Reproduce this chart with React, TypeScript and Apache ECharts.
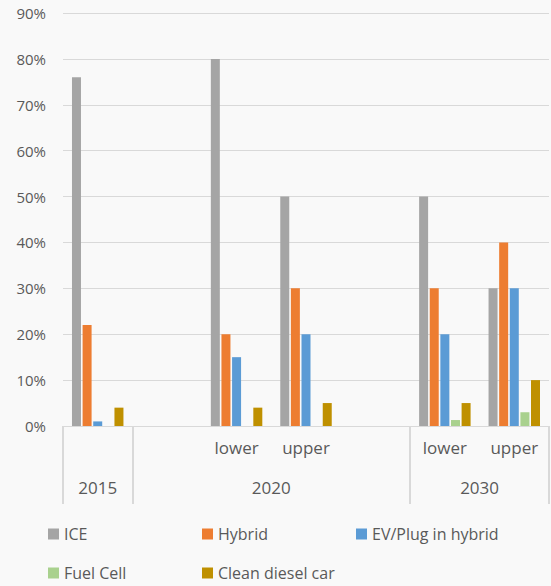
import React, { useEffect, useRef } from "react";
import * as echarts from "echarts";

const categories = ["2015", "", "lower", "upper", "", "lower", "upper"];
const yearLabels = ["2015", "2020", "2030"];
const yearCenters = [0.5, 3, 6];
const yearBoundaries = [0, 1, 5, 7];

const seriesNames = ["ICE", "Hybrid", "EV/Plug in hybrid", "Fuel Cell", "Clean diesel car"];
const iceValues = [76, null, 80, 50, null, 50, 30];
const hybridValues = [22, null, 20, 30, null, 30, 40];
const evValues = [1, null, 15, 20, null, 20, 30];
const fuelCellValues = [0, null, 0, 0, null, 1.3, 3];
const dieselValues = [4, null, 4, 5, null, 5, 10];
const colors = ["#a5a5a5", "#ed7d31", "#5b9bd5", "#a9d18e", "#bf9000"];

const FONT = "Open Sans";
const TEXT = "#595959";

export default function App() {
  const ref = useRef<HTMLDivElement>(null);
  useEffect(() => {
    const chart = echarts.init(ref.current!, null, { renderer: "svg" });
    const data = [iceValues, hybridValues, evValues, fuelCellValues, dieselValues];
    const legendPos = [
      [48, 526],
      [202, 526],
      [356, 526],
      [48, 565],
      [202, 565],
    ];
    chart.setOption({
      animation: false,
      backgroundColor: "#f9f9f9",
      textStyle: { fontFamily: FONT },
      grid: { left: 63, right: 2, top: 13, bottom: 160, containLabel: false },
      legend: seriesNames.map((n, i) => ({
        data: [n],
        left: legendPos[i][0],
        top: legendPos[i][1],
        icon: "rect",
        itemWidth: 11,
        itemHeight: 11,
        padding: 0,
        textStyle: { color: TEXT, fontSize: 16, fontFamily: FONT },
      })),
      xAxis: [
        {
          type: "category",
          data: categories,
          axisLine: { show: true, lineStyle: { color: "#d9d9d9", width: 1 } },
          axisTick: { show: false },
          axisLabel: {
            interval: 0,
            color: TEXT,
            fontSize: 17,
            fontFamily: FONT,
            margin: 13,
            formatter: (v: string, i: number) => (i === 0 ? "" : v),
          },
        },
        {
          type: "value",
          min: 0,
          max: 7,
          position: "bottom",
          axisLine: { show: false },
          splitLine: { show: false },
          axisTick: {
            show: true,
            customValues: yearBoundaries,
            length: 78,
            lineStyle: { color: "#d9d9d9", width: 2 },
          },
          axisLabel: {
            show: true,
            customValues: yearCenters,
            color: TEXT,
            fontSize: 17,
            fontFamily: FONT,
            margin: 53,
            formatter: (v: number) => {
              const k = yearCenters.indexOf(v);
              return k >= 0 ? yearLabels[k] : "";
            },
          },
        },
      ],
      yAxis: {
        type: "value",
        min: 0,
        max: 90,
        interval: 10,
        axisLine: { show: false },
        axisTick: { show: false },
        splitLine: { lineStyle: { color: "#d9d9d9", width: 1 } },
        axisLabel: {
          color: TEXT,
          fontSize: 15,
          fontFamily: FONT,
          margin: 17,
          formatter: "{value}%",
        },
      },
      series: seriesNames.map((n, i) => ({
        name: n,
        type: "bar",
        xAxisIndex: 0,
        data: data[i],
        barWidth: 9,
        barGap: "18%",
        itemStyle: { color: colors[i] },
      })),
    });
    return () => chart.dispose();
  }, []);
  return (
    <div
      ref={ref}
      style={{ position: "fixed", left: 0, top: 0, width: 551, height: 586 }}
    />
  );
}
